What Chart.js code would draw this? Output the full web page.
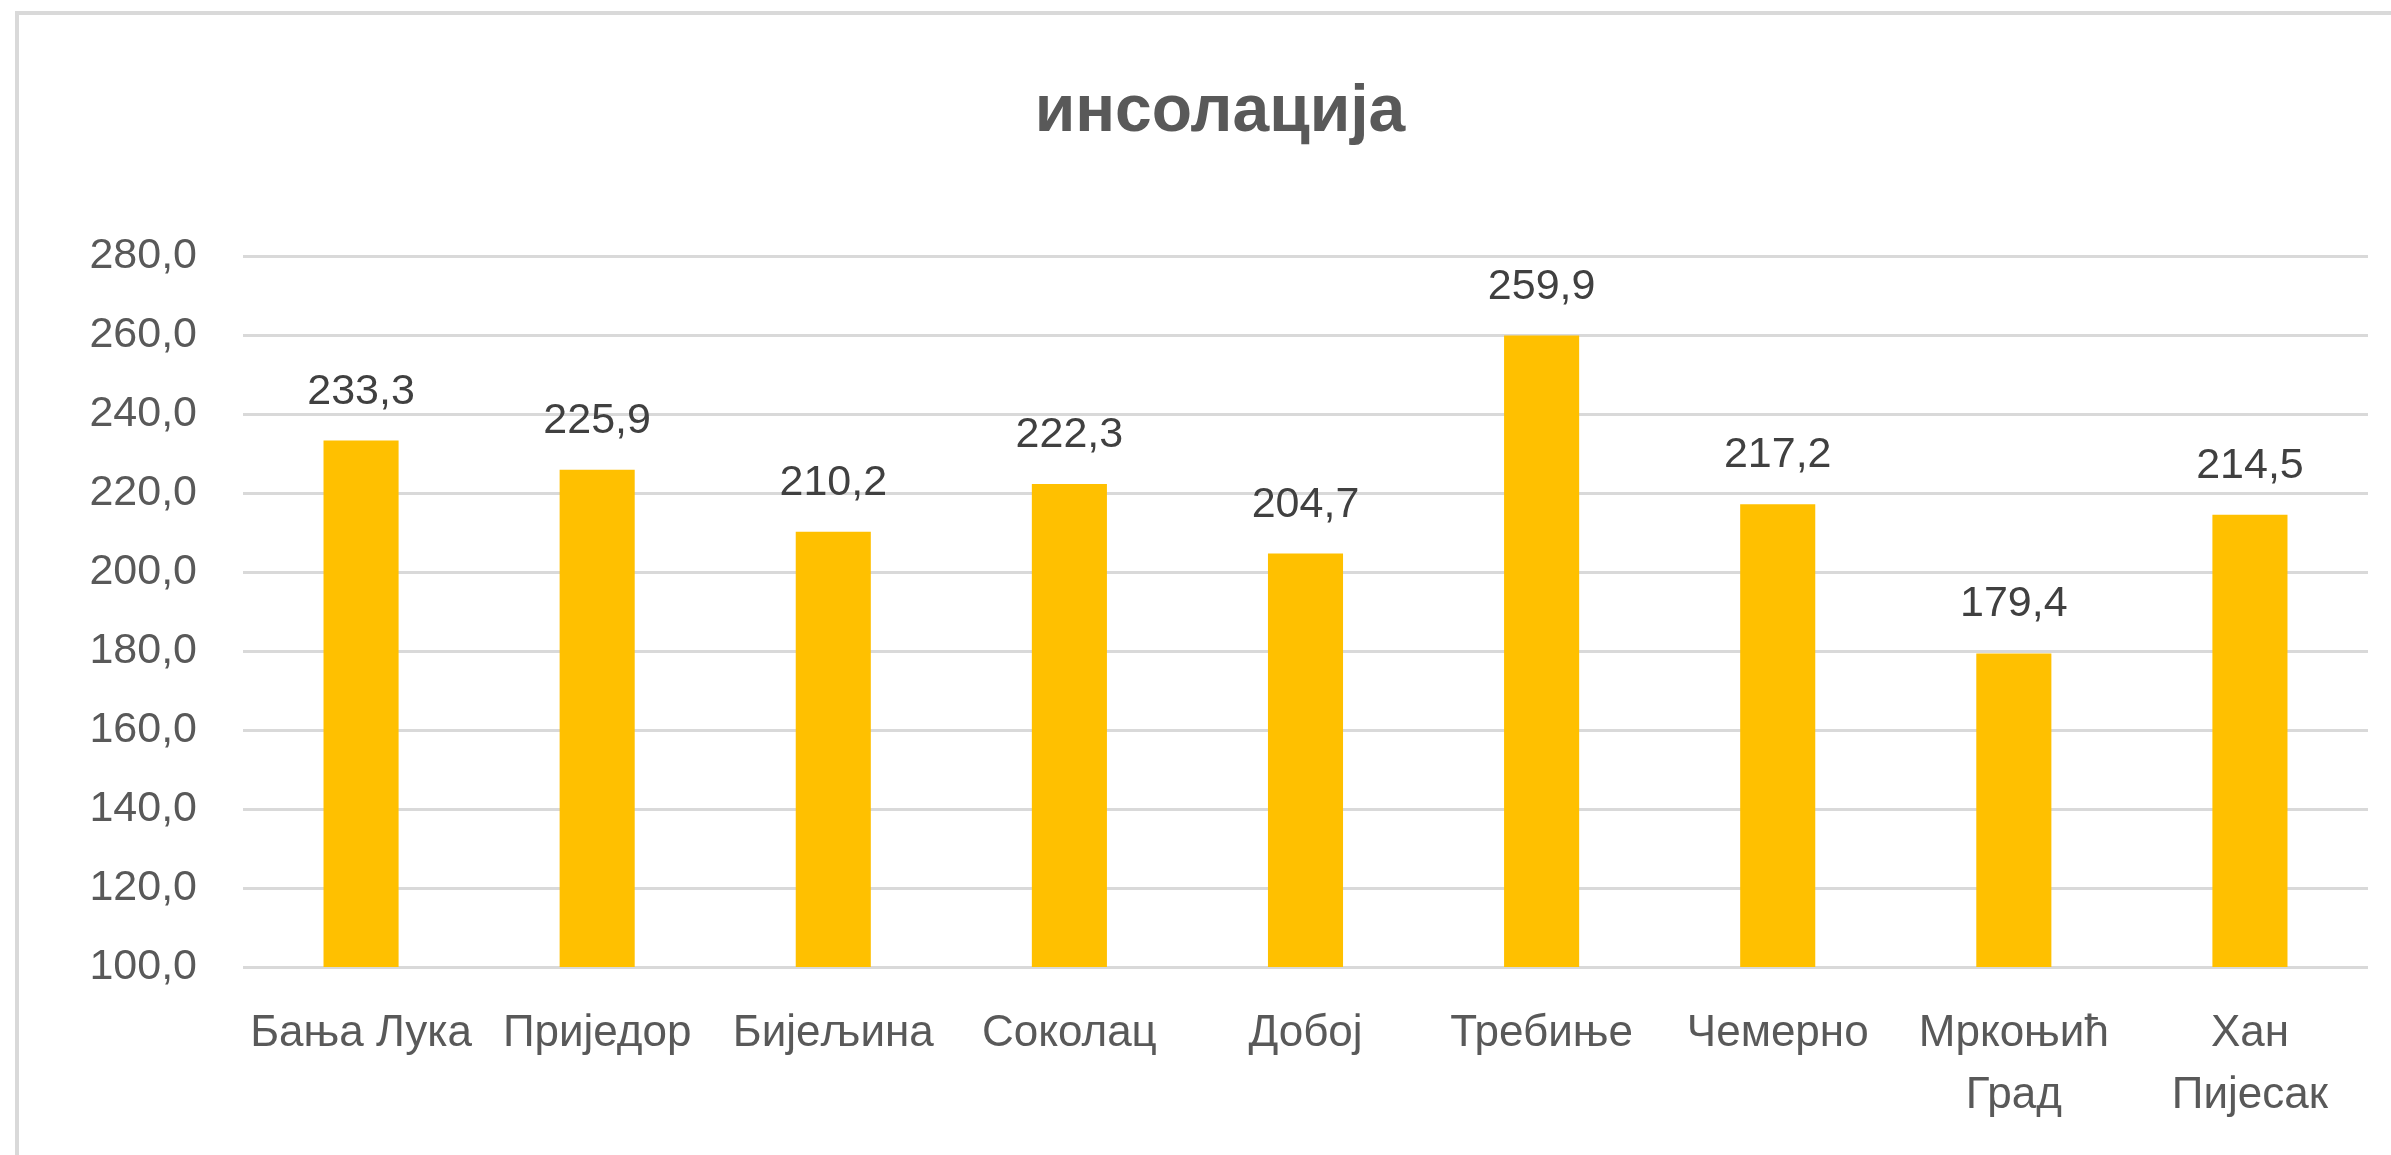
<!DOCTYPE html>
<html>
<head>
<meta charset="utf-8">
<title>инсолација</title>
<script src="https://cdn.jsdelivr.net/npm/chart.js@4"></script>
<style>
    body { margin: 0; background: #ffffff; }
    canvas { display: block; }
</style>
</head>
<body>
<canvas id="chart" width="2391" height="1155"></canvas>
<script>
// ===== DATA =====
const stations = [
    "Бања Лука", "Приједор", "Бијељина", "Соколац", "Добој",
    "Требиње", "Чемерно", ["Мркоњић", "Град"], ["Хан", "Пијесак"]
];
const insolation = [233.3, 225.9, 210.2, 222.3, 204.7, 259.9, 217.2, 179.4, 214.5];
const yTicks = [100, 120, 140, 160, 180, 200, 220, 240, 260, 280];

const FONT = "'Liberation Sans', Arial, sans-serif";

// comma as decimal separator, one decimal
function fmt(v) {
    return v.toFixed(1).replace(".", ",");
}

// ===== FRAME (top + left edge of the chart box) =====
const framePlugin = {
    id: "frame",
    beforeDraw(chart) {
        const ctx = chart.ctx;
        ctx.save();
        ctx.fillStyle = "#ffffff";
        ctx.fillRect(0, 0, chart.width, chart.height);
        ctx.strokeStyle = "#d9d9d9";
        ctx.lineWidth = 4;
        ctx.beginPath();
        ctx.moveTo(17, chart.height);
        ctx.lineTo(17, 13);
        ctx.lineTo(chart.width, 13);
        ctx.stroke();
        ctx.restore();
    }
};

// ===== VALUE LABELS =====
const valueLabels = {
    id: "valueLabels",
    afterDatasetsDraw(chart) {
        const ctx = chart.ctx;
        const meta = chart.getDatasetMeta(0);
        ctx.save();
        ctx.font = "43px " + FONT;
        ctx.fillStyle = "#404040";
        ctx.textAlign = "center";
        ctx.textBaseline = "alphabetic";
        meta.data.forEach((bar, i) => {
            ctx.fillText(fmt(insolation[i]), bar.x, bar.y - 37);
        });
        ctx.restore();
    }
};

new Chart(document.getElementById("chart"), {
    type: "bar",
    data: {
        labels: stations,
        datasets: [{
            data: insolation,
            backgroundColor: "#ffc000",
            borderWidth: 0,
            barPercentage: 1,
            categoryPercentage: 0.318
        }]
    },
    options: {
        responsive: false,
        animation: false,
        devicePixelRatio: 1,
        layout: { padding: { left: 72, right: 23, top: 0, bottom: 0 } },
        plugins: {
            legend: { display: false },
            tooltip: { enabled: false },
            title: {
                display: true,
                text: "инсолација",
                color: "#595959",
                font: { family: FONT, size: 66, weight: "bold", lineHeight: 1.2 },
                padding: { top: 73, bottom: 104 }
            }
        },
        scales: {
            x: {
                grid: { display: false, drawTicks: false },
                border: { display: false },
                ticks: {
                    color: "#595959",
                    font: { family: FONT, size: 44, lineHeight: 1.4 },
                    padding: 36,
                    maxRotation: 0,
                    minRotation: 0,
                    autoSkip: false
                },
                afterFit(scale) { scale.height = 188; }
            },
            y: {
                min: 100,
                max: 280,
                grid: { color: "#d9d9d9", lineWidth: 3, drawTicks: false },
                border: { display: false },
                afterBuildTicks(scale) {
                    scale.ticks = yTicks.map(v => ({ value: v }));
                },
                ticks: {
                    color: "#595959",
                    font: { family: FONT, size: 43 },
                    padding: 46,
                    callback: v => fmt(v)
                },
                afterFit(scale) { scale.width = 171; }
            }
        }
    },
    plugins: [framePlugin, valueLabels]
});
</script>
</body>
</html>
